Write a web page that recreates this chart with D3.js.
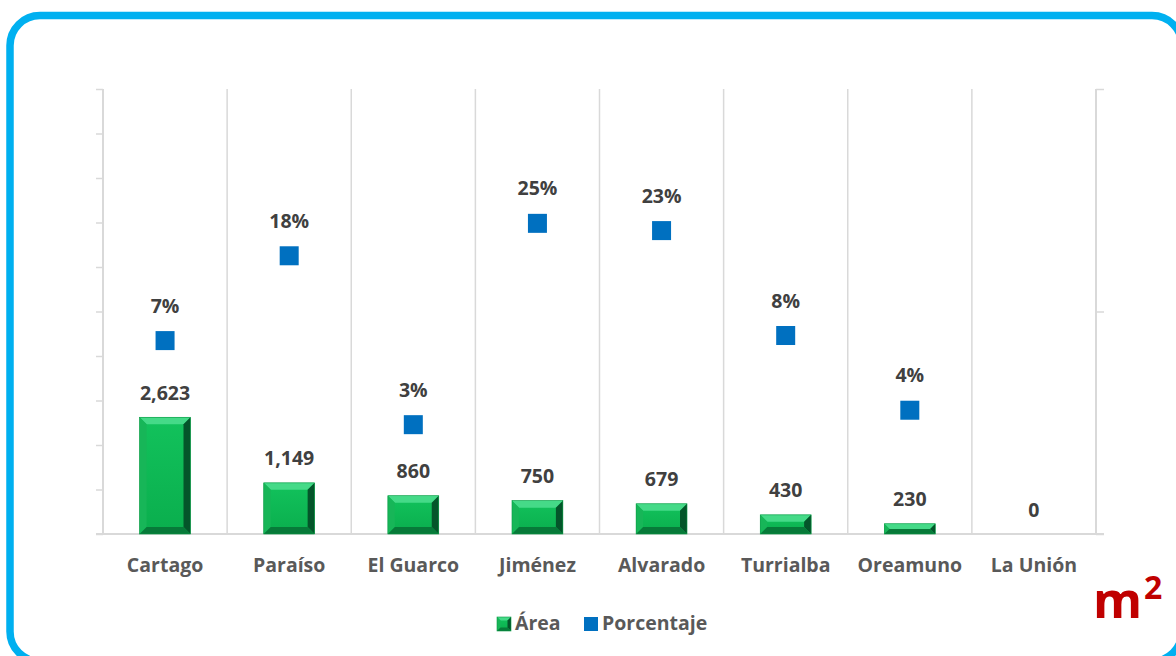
<!DOCTYPE html>
<html>
<head>
<meta charset="utf-8">
<script src="https://cdn.jsdelivr.net/npm/d3@7"></script>
<style>
  html, body { margin: 0; padding: 0; background: #ffffff; }
  svg { display: block; }
  text { font-family: "Open Sans", "DejaVu Sans", sans-serif; font-weight: 700; }
</style>
</head>
<body>
<svg id="chart" width="1176" height="656"></svg>
<script>
const categories = ["Cartago", "Paraíso", "El Guarco", "Jiménez", "Alvarado", "Turrialba", "Oreamuno", "La Unión"];
const areaValues = [2623, 1149, 860, 750, 679, 430, 230, 0];
const pctValues = [7.4, 17.8, 3.1, 24.9, 23.1, 7.8, 3.6, null];
const pctLabels = ["7%", "18%", "3%", "25%", "23%", "8%", "4%", null];
const leftTicks = [0, 1000, 2000, 3000, 4000, 5000, 6000, 7000, 8000, 9000, 10000];
const rightTicks = [1, 10, 100];
const legendLabels = ["Área", "Porcentaje"];
const unitLabel = "m";

const svg = d3.select("#chart");
const plot = { left: 103, right: 1096, top: 89, bottom: 534 };
const axisColor = "#d9d9d9";
const fs = 19.5;

// Frame
svg.append("rect")
  .attr("x", 10).attr("y", 15.5)
  .attr("width", 1172).attr("height", 646)
  .attr("rx", 30).attr("ry", 30)
  .attr("fill", "none")
  .attr("stroke", "#00b0f0")
  .attr("stroke-width", 7.5);

const x = d3.scaleBand().domain(categories).range([plot.left, plot.right]).paddingInner(0).paddingOuter(0);
const yL = d3.scaleLinear().domain([0, 10000]).range([plot.bottom, plot.top]);
const yR = d3.scaleLog().domain([1, 100]).range([plot.bottom, plot.top]);

// vertical gridlines between categories
svg.append("g").selectAll("line")
  .data(categories.slice(1))
  .join("line")
  .attr("x1", d => x(d)).attr("x2", d => x(d))
  .attr("y1", plot.top).attr("y2", plot.bottom)
  .attr("stroke", axisColor).attr("stroke-width", 1.5);

// left axis
const gL = svg.append("g")
  .attr("transform", `translate(${plot.left},0)`)
  .call(d3.axisLeft(yL).tickValues(leftTicks).tickSize(7).tickFormat(""));
gL.select(".domain").remove();
gL.selectAll(".tick line").attr("stroke", axisColor).attr("stroke-width", 1.5);
svg.append("line")
  .attr("x1", plot.left).attr("x2", plot.left)
  .attr("y1", plot.top).attr("y2", plot.bottom)
  .attr("stroke", axisColor).attr("stroke-width", 2);

// right axis
const gR = svg.append("g")
  .attr("transform", `translate(${plot.right},0)`)
  .call(d3.axisRight(yR).tickValues(rightTicks).tickSize(8).tickFormat(""));
gR.select(".domain").remove();
gR.selectAll(".tick line").attr("stroke", axisColor).attr("stroke-width", 1.5);
svg.append("line")
  .attr("x1", plot.right).attr("x2", plot.right)
  .attr("y1", plot.top).attr("y2", plot.bottom)
  .attr("stroke", axisColor).attr("stroke-width", 2);

// baseline
svg.append("line")
  .attr("x1", plot.left - 7).attr("x2", plot.right + 8)
  .attr("y1", plot.bottom).attr("y2", plot.bottom)
  .attr("stroke", axisColor).attr("stroke-width", 2);

// bevel gradient for bar face
const defs = svg.append("defs");
const grad = defs.append("linearGradient").attr("id", "face").attr("x1", 0).attr("y1", 0).attr("x2", 0).attr("y2", 1);
grad.append("stop").attr("offset", "0%").attr("stop-color", "#12c25c");
grad.append("stop").attr("offset", "100%").attr("stop-color", "#0aae4d");

function bevelBar(g, x0, x1, y0, y1, bev) {
  const h = y1 - y0;
  if (h <= 0) return;
  const b = Math.min(bev, h / 2, (x1 - x0) / 2);
  g.append("rect").attr("x", x0).attr("y", y0).attr("width", x1 - x0).attr("height", h).attr("fill", "url(#face)");
  const poly = (pts, fill) => g.append("polygon").attr("points", pts.map(p => p.join(",")).join(" ")).attr("fill", fill);
  poly([[x0, y0], [x1, y0], [x1 - b, y0 + b], [x0 + b, y0 + b]], "#45da88");
  poly([[x0, y0], [x0 + b, y0 + b], [x0 + b, y1 - b], [x0, y1]], "#17b658");
  poly([[x1, y0], [x1, y1], [x1 - b, y1 - b], [x1 - b, y0 + b]], "#04552a");
  poly([[x0, y1], [x1, y1], [x1 - b, y1 - b], [x0 + b, y1 - b]], "#077a39");
  g.append("rect").attr("x", x0).attr("y", y0).attr("width", x1 - x0).attr("height", h)
    .attr("fill", "none").attr("stroke", "#0a9a45").attr("stroke-width", 0.6);
}

// bars
const barW = x.bandwidth() * 0.41;
const gBars = svg.append("g");
areaValues.forEach((v, i) => {
  const cx = x(categories[i]) + x.bandwidth() / 2;
  bevelBar(gBars, cx - barW / 2, cx + barW / 2, yL(v), yL(0), 7);
});

// bar labels
svg.append("g").selectAll("text")
  .data(areaValues)
  .join("text")
  .attr("x", (d, i) => x(categories[i]) + x.bandwidth() / 2)
  .attr("y", d => yL(d) - 17.5)
  .attr("text-anchor", "middle")
  .attr("font-size", fs)
  .attr("fill", "#404040")
  .text(d => d3.format(",")(d));

// percent markers
const ms = 19;
const pctData = pctValues.map((v, i) => ({ v, i, label: pctLabels[i] })).filter(d => d.v != null);
svg.append("g").selectAll("rect")
  .data(pctData)
  .join("rect")
  .attr("x", d => x(categories[d.i]) + x.bandwidth() / 2 - ms / 2)
  .attr("y", d => yR(d.v) - ms / 2)
  .attr("width", ms).attr("height", ms)
  .attr("fill", "#0070c0");

svg.append("g").selectAll("text")
  .data(pctData)
  .join("text")
  .attr("x", d => x(categories[d.i]) + x.bandwidth() / 2)
  .attr("y", d => yR(d.v) - 28)
  .attr("text-anchor", "middle")
  .attr("font-size", fs)
  .attr("fill", "#404040")
  .text(d => d.label);

// category labels
svg.append("g").selectAll("text")
  .data(categories)
  .join("text")
  .attr("x", d => x(d) + x.bandwidth() / 2)
  .attr("y", 571.5)
  .attr("text-anchor", "middle")
  .attr("font-size", fs)
  .attr("fill", "#595959")
  .text(d => d);

// legend
const gLeg = svg.append("g");
bevelBar(gLeg, 497, 511, 617, 631, 3.5);
gLeg.append("text").attr("x", 515).attr("y", 630).attr("font-size", fs).attr("fill", "#595959").text(legendLabels[0]);
gLeg.append("rect").attr("x", 584).attr("y", 617).attr("width", 14).attr("height", 14).attr("fill", "#0070c0");
gLeg.append("text").attr("x", 602).attr("y", 630).attr("font-size", fs).attr("fill", "#595959").text(legendLabels[1]);

// unit label m²
const unit = svg.append("text")
  .attr("x", 1093).attr("y", 618)
  .attr("font-size", 50)
  .attr("fill", "#c00000");
unit.append("tspan").text(unitLabel);
unit.append("tspan").attr("font-size", 32).attr("dx", 2).attr("dy", -19).text("2");
</script>
</body>
</html>
